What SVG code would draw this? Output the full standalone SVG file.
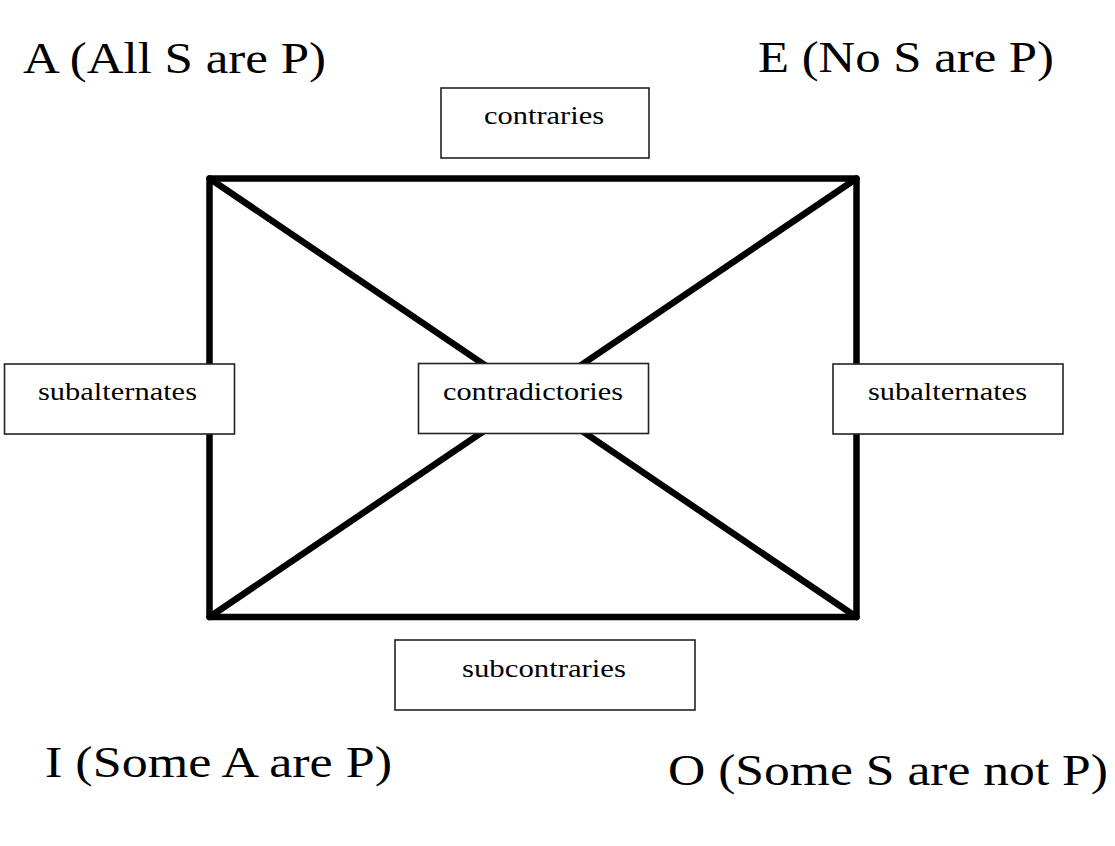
<svg xmlns="http://www.w3.org/2000/svg" width="1115" height="846" viewBox="0 0 1115 846">
<style>
.big{font-family:"Liberation Serif","Times New Roman",serif;font-size:44px;fill:#000}
.lbl{font-family:"Liberation Serif","Times New Roman",serif;font-size:25px;fill:#000;text-anchor:start}
.box{fill:#fff;stroke:#222;stroke-width:1.6}
.edge{stroke:#000;stroke-width:6.5;fill:none;stroke-linejoin:round;stroke-linecap:round}
</style>
<rect x="0" y="0" width="1115" height="846" fill="#fff"/>
<g id="connectors">
<rect class="edge" x="209.5" y="178.5" width="647" height="438.5"/>
<line class="edge" x1="209.5" y1="178.5" x2="856.5" y2="617"/>
<line class="edge" x1="856.5" y1="178.5" x2="209.5" y2="617"/>
</g>
<g id="A"><text class="big" x="23" y="73" textLength="303" lengthAdjust="spacingAndGlyphs">A (All S are P)</text></g>
<g id="E"><text class="big" x="758" y="72" textLength="296" lengthAdjust="spacingAndGlyphs">E (No S are P)</text></g>
<g id="I"><text class="big" x="45" y="777" textLength="347" lengthAdjust="spacingAndGlyphs">I (Some A are P)</text></g>
<g id="O"><text class="big" x="668" y="785" textLength="440" lengthAdjust="spacingAndGlyphs">O (Some S are not P)</text></g>
<g id="contraries"><rect class="box" x="441" y="88" width="208" height="70"/><text class="lbl" x="484" y="124" textLength="120" lengthAdjust="spacingAndGlyphs">contraries</text></g>
<g id="subalternates-left"><rect class="box" x="4.5" y="364" width="230" height="70"/><text class="lbl" x="38" y="400" textLength="159" lengthAdjust="spacingAndGlyphs">subalternates</text></g>
<g id="contradictories"><rect class="box" x="418.5" y="363.5" width="230" height="70"/><text class="lbl" x="443" y="400" textLength="180" lengthAdjust="spacingAndGlyphs">contradictories</text></g>
<g id="subalternates-right"><rect class="box" x="833" y="364" width="230" height="70"/><text class="lbl" x="868" y="400" textLength="159" lengthAdjust="spacingAndGlyphs">subalternates</text></g>
<g id="subcontraries"><rect class="box" x="395" y="640" width="300" height="70"/><text class="lbl" x="462" y="677" textLength="164" lengthAdjust="spacingAndGlyphs">subcontraries</text></g>
</svg>
